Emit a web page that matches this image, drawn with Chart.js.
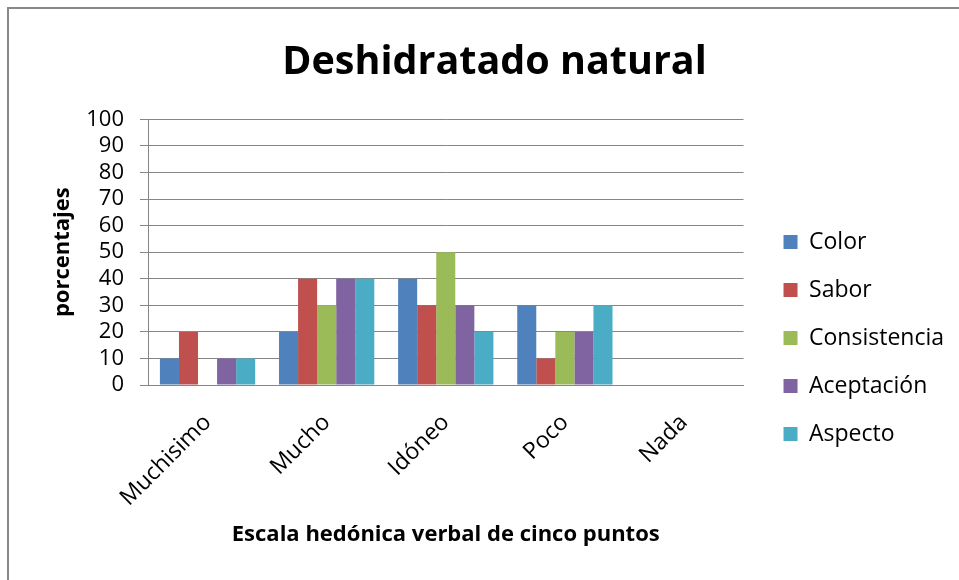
<!DOCTYPE html>
<html>
<head>
<meta charset="utf-8">
<title>Deshidratado natural</title>
<script src="https://cdn.jsdelivr.net/npm/chart.js@4.4.1/dist/chart.umd.min.js"></script>
<style>
html, body { margin: 0; padding: 0; background: #fff; }
#wrap { position: relative; width: 959px; height: 580px; overflow: hidden; }
#frame { position: absolute; left: 7px; top: 7px; width: 1000px; height: 1000px;
         border-left: 2px solid #898989; border-top: 2px solid #898989; }
canvas { position: absolute; left: 0; top: 0; }
</style>
</head>
<body>
<div id="wrap">
  <div id="frame"></div>
  <canvas id="chart" width="959" height="580"></canvas>
</div>
<script>
// categories on the hedonic scale
const categories = ['Muchisimo', 'Mucho', 'Idóneo', 'Poco', 'Nada'];

// percentages per attribute
const color        = [10, 20, 40, 30, 0];
const sabor        = [20, 40, 30, 10, 0];
const consistencia = [0, 30, 50, 20, 0];
const aceptacion   = [10, 40, 30, 20, 0];
const aspecto      = [10, 40, 20, 30, 0];

const seriesNames = ['Color', 'Sabor', 'Consistencia', 'Aceptación', 'Aspecto'];
const seriesColors = ['#4F81BD', '#C0504D', '#9BBB59', '#8064A2', '#4BACC6'];

// y axis ticks
const yMin = 0;
const yMax = 100;
const yStep = 10;

const FONT = '"Open Sans", Lato, sans-serif';
const GRID = '#868686';

// shift the legend away from the plot area (Excel leaves a gap there)
const legendShift = {
    id: 'legendShift',
    afterLayout(chart) {
        const lg = chart.legend;
        if (!lg) return;
        const dx = 15, dy = 48;
        lg.left += dx; lg.right += dx;
        lg.top += dy; lg.bottom += dy;
    }
};

function buildDatasets() {
    const values = [color, sabor, consistencia, aceptacion, aspecto];
    return values.map((data, i) => ({
        label: seriesNames[i],
        data: data,
        backgroundColor: seriesColors[i],
        borderWidth: 0,
        categoryPercentage: 0.8,
        barPercentage: 1.0
    }));
}

const ctx = document.getElementById('chart').getContext('2d');
new Chart(ctx, {
    type: 'bar',
    data: {
        labels: categories,
        datasets: buildDatasets()
    },
    options: {
        responsive: false,
        animation: false,
        layout: {
            padding: { left: 50, right: 20, top: 0, bottom: 0 }
        },
        plugins: {
            title: {
                display: true,
                text: 'Deshidratado natural',
                color: '#000',
                font: { family: FONT, size: 39.5, weight: 'bold' },
                padding: { top: 39, bottom: 33 }
            },
            legend: {
                position: 'right',
                labels: {
                    boxWidth: 14,
                    boxHeight: 14,
                    padding: 25,
                    color: '#000',
                    font: { family: FONT, size: 23 }
                }
            },
            tooltip: { enabled: false }
        },
        scales: {
            x: {
                grid: { display: false, drawTicks: false },
                border: { display: true, color: GRID },
                ticks: {
                    color: '#000',
                    font: { family: FONT, size: 23 },
                    maxRotation: 45,
                    minRotation: 45,
                    padding: 24,
                    labelOffset: 0
                },
                title: {
                    display: true,
                    text: 'Escala hedónica verbal de cinco puntos',
                    color: '#000',
                    font: { family: FONT, size: 22, weight: 'bold' },
                    padding: { top: 0, bottom: 32 }
                },
                afterFit(scale) { scale.height = 195; }
            },
            y: {
                min: yMin,
                max: yMax,
                grid: { color: GRID, tickLength: 8 },
                border: { color: GRID },
                ticks: {
                    stepSize: yStep,
                    autoSkip: false,
                    color: '#000',
                    font: { family: FONT, size: 22 },
                    padding: 16
                },
                title: {
                    display: true,
                    text: 'porcentajes',
                    color: '#000',
                    font: { family: FONT, size: 22, weight: 'bold' },
                    padding: { top: 0, bottom: 0 }
                },
                afterFit(scale) { scale.width = 98; }
            }
        }
    },
    plugins: [legendShift]
});
</script>
</body>
</html>
